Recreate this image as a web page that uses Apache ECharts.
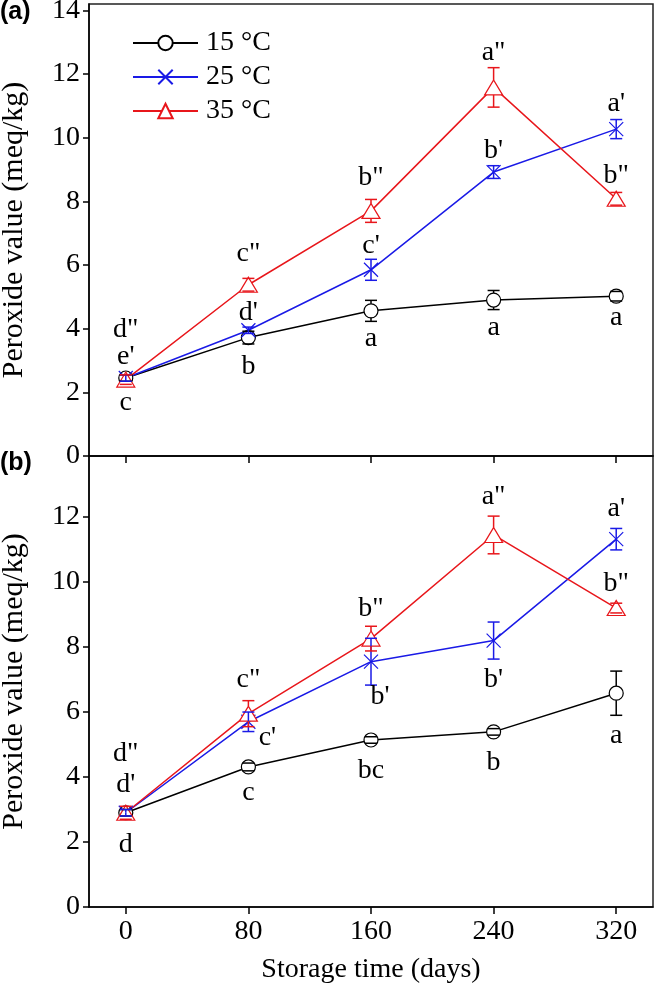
<!DOCTYPE html>
<html><head><meta charset="utf-8">
<script src="https://cdn.jsdelivr.net/npm/echarts@6/dist/echarts.min.js"></script>
<style>html,body{margin:0;padding:0;background:#fff}#c{width:655px;height:984px}</style>
</head><body><div id="c"></div>
<script>
// ---------- data ----------
const days = [0, 80, 160, 240, 320];
const xTicks = [0, 80, 160, 240, 320];
const yTicksA = [0, 2, 4, 6, 8, 10, 12, 14];
const yTicksB = [0, 2, 4, 6, 8, 10, 12];
const seriesNames = ['15 °C', '25 °C', '35 °C'];

// Panel (a)
const a15 = [2.45, 3.72, 4.56, 4.90, 5.02];
const a15Err = [0.10, 0.20, 0.33, 0.30, 0.15];
const a25 = [2.45, 3.95, 5.85, 8.92, 10.27];
const a25Err = [0.10, 0.10, 0.33, 0.20, 0.30];
const a35 = [2.40, 5.38, 7.70, 11.58, 8.08];
const a35Err = [0.15, 0.20, 0.36, 0.62, 0.20];
const a15Letters = ['c', 'b', 'a', 'a', 'a'];
const a25Letters = ["e'", "d'", "c'", "b'", "a'"];
const a35Letters = ['d"', 'c"', 'b"', 'a"', 'b"'];

// Panel (b)
const b15 = [2.90, 4.31, 5.14, 5.39, 6.58];
const b15Err = [0.10, 0.12, 0.10, 0.10, 0.68];
const b25 = [2.90, 5.70, 7.55, 8.20, 11.32];
const b25Err = [0.10, 0.30, 0.72, 0.57, 0.33];
const b35 = [2.90, 5.95, 8.26, 11.45, 9.20];
const b35Err = [0.20, 0.40, 0.38, 0.58, 0.15];
const b15Letters = ['d', 'c', 'bc', 'b', 'a'];
const b25Letters = ["d'", "c'", "b'", "b'", "a'"];
const b35Letters = ['d"', 'c"', 'b"', 'a"', 'b"'];

// ---------- label placement (style): [side (+1 above / -1 below), px distance, px dx] ----------
const pA15 = [[-1,21,0],[-1,23,0],[-1,17,0],[-1,18,0],[-1,17,0]];
const pA25 = [[1,18,0],[1,14,0],[1,14,0],[1,15,0],[1,16,0]];
const pA35 = [[1,45,0],[1,25,0],[1,22,0],[1,15,0],[1,17,0]];
const pB15 = [[-1,29,0],[-1,22,0],[-1,27,0],[-1,28,0],[-1,20,0]];
const pB25 = [[1,25,0],[-1,6,19],[-1,12,9],[-1,21,0],[1,20,0]];
const pB35 = [[1,53,0],[1,21,0],[1,18,0],[1,19,0],[1,20,0]];

// ---------- styles ----------
const FONT = 'Liberation Serif';
const BOLD = 'Liberation Sans';
const C15 = '#000000', C25 = '#1a1ae6', C35 = '#e8161b';
const XSYM = 'path://M0,0L10,10M10,0L0,10';

function rows(vals, errs) { return days.map((d, i) => [d, vals[i], errs[i]]); }

function lineSeries(name, g, vals, color, symbol, size, fill) {
  return {
    name, type: 'line', xAxisIndex: g, yAxisIndex: g,
    data: days.map((d, i) => [d, vals[i]]),
    symbol, symbolSize: size, showAllSymbol: true, z: 3,
    lineStyle: { color, width: 1.5 },
    itemStyle: { color: fill, borderColor: color, borderWidth: 1.2 },
    emphasis: { disabled: true }, animation: false
  };
}

function errSeries(g, vals, errs, color, r) {
  return {
    type: 'custom', xAxisIndex: g, yAxisIndex: g, z: 5, silent: true, animation: false,
    data: rows(vals, errs),
    renderItem(params, api) {
      const x = api.value(0), v = api.value(1), e = api.value(2);
      const p = api.coord([x, v]), t = api.coord([x, v + e]), b = api.coord([x, v - e]);
      const cap = 6, st = { stroke: color, lineWidth: 1.5 };
      const ch = [];
      if (t[1] < p[1] - r) ch.push({ type: 'line', shape: { x1: p[0], y1: p[1] - r, x2: p[0], y2: t[1] }, style: st });
      if (b[1] > p[1] + r) ch.push({ type: 'line', shape: { x1: p[0], y1: p[1] + r, x2: p[0], y2: b[1] }, style: st });
      ch.push({ type: 'line', shape: { x1: p[0] - cap, y1: t[1], x2: p[0] + cap, y2: t[1] }, style: st });
      ch.push({ type: 'line', shape: { x1: p[0] - cap, y1: b[1], x2: p[0] + cap, y2: b[1] }, style: st });
      return { type: 'group', children: ch };
    }
  };
}

function letterSeries(g, vals, errs, letters, place) {
  return {
    type: 'custom', xAxisIndex: g, yAxisIndex: g, z: 6, silent: true, animation: false,
    data: rows(vals, errs),
    renderItem(params, api) {
      const i = params.dataIndex;
      const x = api.value(0), v = api.value(1), e = api.value(2);
      const pl = place[i];
      const end = api.coord([x, v + pl[0] * e]);
      return {
        type: 'text', x: end[0] + pl[2], y: end[1] - pl[0] * pl[1],
        style: { text: letters[i], fill: '#000', fontSize: 28, fontFamily: FONT, align: 'center', verticalAlign: 'middle' }
      };
    }
  };
}

function xAxis(g, showLabels) {
  const ax = {
    gridIndex: g, type: 'value', min: -24, max: 344,
    axisLine: { show: true, onZero: false, lineStyle: { color: '#000', width: 1.5 } },
    axisTick: { show: true, length: 7, customValues: xTicks, lineStyle: { color: '#000', width: 1.5 } },
    axisLabel: { show: showLabels, customValues: xTicks, fontSize: 28, margin: 11, color: '#000', fontFamily: FONT },
    splitLine: { show: false }
  };
  if (showLabels) {
    ax.name = 'Storage time (days)';
    ax.nameLocation = 'middle';
    ax.nameGap = 49;
    ax.nameTextStyle = { fontSize: 28, fontFamily: FONT, color: '#000' };
  }
  return ax;
}

function yAxis(g, max, ticks) {
  return {
    gridIndex: g, type: 'value', min: 0, max,
    axisLine: { show: true, onZero: false, lineStyle: { color: '#000', width: 1.5 } },
    axisTick: { show: true, length: 6, customValues: ticks, lineStyle: { color: '#000', width: 1.5 } },
    axisLabel: { customValues: ticks, fontSize: 28, margin: 9, color: '#000', fontFamily: FONT },
    splitLine: { show: false },
    name: 'Peroxide value (meq/kg)', nameLocation: 'middle', nameGap: 60,
    nameTextStyle: { fontSize: 30, fontFamily: FONT, color: '#000' }
  };
}

const chart = echarts.init(document.getElementById('c'), null, { renderer: 'canvas' });
chart.setOption({
  animation: false,
  backgroundColor: '#fff',
  textStyle: { fontFamily: FONT },
  title: [
    { text: '(a)', left: 0, top: 0, padding: 0, textStyle: { fontFamily: BOLD, fontWeight: 'bold', fontSize: 25, color: '#000' } },
    { text: '(b)', left: 0, top: 451, padding: 0, textStyle: { fontFamily: BOLD, fontWeight: 'bold', fontSize: 25, color: '#000' } }
  ],
  legend: {
    data: seriesNames, orient: 'vertical', left: 132, top: 29, padding: 0,
    itemWidth: 65, itemHeight: 18, itemGap: 6, selectedMode: false,
    textStyle: { fontFamily: FONT, fontSize: 28, color: '#000', lineHeight: 28, padding: [0, 0, 0, 3] }
  },
  grid: [
    { left: 89, right: 2, top: 4, height: 452, show: true, borderColor: '#222', borderWidth: 1.5, containLabel: false, outerBoundsMode: 'none' },
    { left: 89, right: 2, top: 456, height: 451, show: true, borderColor: '#222', borderWidth: 1.5, containLabel: false, outerBoundsMode: 'none' }
  ],
  xAxis: [xAxis(0, false), xAxis(1, true)],
  yAxis: [yAxis(0, 14.2, yTicksA), yAxis(1, 13.88, yTicksB)],
  series: [
    lineSeries(seriesNames[0], 0, a15, C15, 'circle', 14, '#fff'),
    lineSeries(seriesNames[1], 0, a25, C25, XSYM, 14, 'rgba(0,0,0,0)'),
    lineSeries(seriesNames[2], 0, a35, C35, 'triangle', [18, 15], '#fff'),
    lineSeries(seriesNames[0], 1, b15, C15, 'circle', 14, '#fff'),
    lineSeries(seriesNames[1], 1, b25, C25, XSYM, 14, 'rgba(0,0,0,0)'),
    lineSeries(seriesNames[2], 1, b35, C35, 'triangle', [18, 15], '#fff'),
    errSeries(0, a15, a15Err, C15, 7), errSeries(0, a25, a25Err, C25, 0), errSeries(0, a35, a35Err, C35, 7.5),
    errSeries(1, b15, b15Err, C15, 7), errSeries(1, b25, b25Err, C25, 0), errSeries(1, b35, b35Err, C35, 7.5),
    letterSeries(0, a15, a15Err, a15Letters, pA15), letterSeries(0, a25, a25Err, a25Letters, pA25), letterSeries(0, a35, a35Err, a35Letters, pA35),
    letterSeries(1, b15, b15Err, b15Letters, pB15), letterSeries(1, b25, b25Err, b25Letters, pB25), letterSeries(1, b35, b35Err, b35Letters, pB35)
  ]
});
</script>
</body></html>
